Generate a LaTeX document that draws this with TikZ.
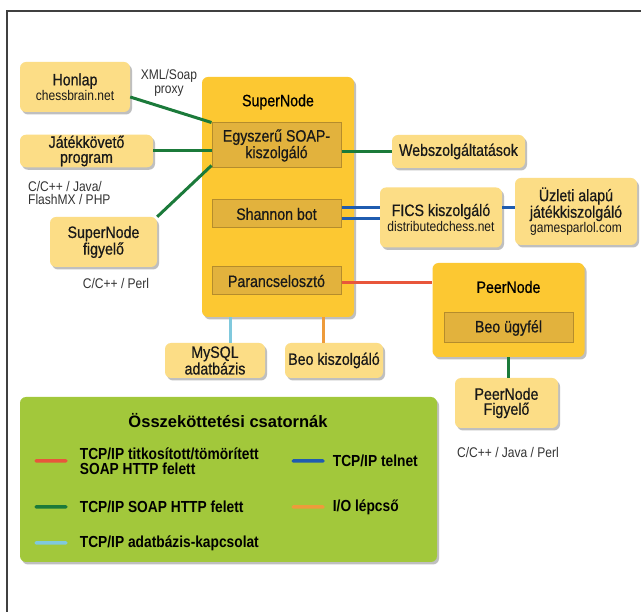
\documentclass[tikz,border=0pt]{standalone}
\usepackage{fontspec}
\setmainfont{Liberation Sans}[FakeStretch=0.86]
\newfontfamily\labelfont{Liberation Sans}[FakeStretch=0.86,FakeBold=0.6]
\newfontfamily\legtitlefont{Liberation Sans}
\usepackage{tikz}
\usetikzlibrary{positioning,shadows}

\definecolor{boxlight}{HTML}{FCDD86}
\definecolor{boxdark}{HTML}{FCC832}
\definecolor{boxinner}{HTML}{E2B23D}
\definecolor{boxedge}{HTML}{B58C2C}
\definecolor{legendgreen}{HTML}{A2C83B}
\definecolor{soapgreen}{HTML}{1B7A3A}
\definecolor{telnetblue}{HTML}{1F5CB0}
\definecolor{cryptred}{HTML}{E8563B}
\definecolor{dbblue}{HTML}{80C9DD}
\definecolor{ioorange}{HTML}{EE9B3B}

\newcommand\boxfont{\labelfont\fontsize{16.5}{15}\selectfont}
\newcommand\subfont{\rmfamily\fontsize{14}{13}\selectfont}
\newcommand\notefont{\fontsize{14}{13.5}\selectfont}

\tikzset{
  shadowed/.style={drop shadow={shadow xshift=2pt,shadow yshift=-2.5pt,fill=black!45,opacity=.55}},
  lightbox/.style={shape=rectangle,rounded corners=6pt,fill=boxlight,shadowed,
    align=center,inner sep=1pt,font=\boxfont,text=black!90},
  darkbox/.style={shape=rectangle,rounded corners=6pt,fill=boxdark,shadowed,inner sep=0pt},
  innerbox/.style={shape=rectangle,fill=boxinner,draw=boxedge,line width=1pt,
    align=center,inner sep=1pt,font=\boxfont,text=black!90},
  note/.style={font=\notefont,text=black!80,inner sep=0pt},
  link/.style={line width=3pt},
  swatch/.style={shape=rectangle,rounded corners=1.5pt,minimum width=33pt,
    minimum height=3.5pt,inner sep=0pt},
  legtext/.style={font=\bfseries\fontsize{16}{14.5}\selectfont,align=left,inner sep=0pt}
}

\begin{document}
\begin{tikzpicture}[x=1pt,y=-1pt]
  \useasboundingbox (0,0) rectangle (641,612);
  \fill[white] (0,0) rectangle (641,612);
  % frame
  \draw[black!75,line width=1.5pt] (7,612) -- (7,11) -- (641,11);

  % outer boxes
  \path (75,87) node [lightbox,minimum width=110pt,minimum height=50pt] (honlap)
          {Honlap\\{\subfont chessbrain.net}}
        (86.5,151) node [lightbox,minimum width=133pt,minimum height=32pt] (jatek)
          {Játékkövető\\program}
        (103.5,242) node [lightbox,minimum width=107pt,minimum height=50pt] (sfigyelo)
          {SuperNode\\figyelő}
        (458.5,151.5) node [lightbox,minimum width=133pt,minimum height=33pt] (web)
          {Webszolgáltatások}
        (441,217.5) node [lightbox,minimum width=122pt,minimum height=60pt] (fics)
          {FICS kiszolgáló\\{\subfont distributedchess.net}}
        (576,211.5) node [lightbox,minimum width=122pt,minimum height=67pt] (uzleti)
          {Üzleti alapú\\játékkiszolgáló\\{\subfont gamesparlol.com}}
        (215,360.5) node [lightbox,minimum width=100pt,minimum height=35pt] (mysql)
          {MySQL\\adatbázis}
        (334,360.5) node [lightbox,minimum width=98pt,minimum height=35pt] (beoksz)
          {Beo kiszolgáló}
        (506.5,403) node [lightbox,minimum width=103pt,minimum height=50pt] (pfigyelo)
          {PeerNode\\Figyelő};

  % SuperNode
  \path (278,197) node [darkbox,minimum width=152pt,minimum height=240pt] (super) {}
        (278,102) node [font=\boxfont] (supertitle) {SuperNode}
        (276.5,145.5) node [innerbox,minimum width=129pt,minimum height=45pt] (soap)
          {Egyszerű SOAP-\\kiszolgáló}
        (276.5,214) node [innerbox,minimum width=129pt,minimum height=28pt] (shannon)
          {Shannon bot}
        (276.5,281) node [innerbox,minimum width=129pt,minimum height=28pt] (parancs)
          {Parancselosztó};

  % PeerNode
  \path (508.5,310) node [darkbox,minimum width=152pt,minimum height=94pt] (peer) {}
        (508.5,287) node [font=\boxfont] (peertitle) {PeerNode}
        (508.5,328) node [innerbox,minimum width=129pt,minimum height=30pt] (beougy)
          {Beo ügyfél};

  % notes
  \node [note,align=center] (proxynote) at (169,83) {XML/Soap\\proxy};
  \node [note,align=left,anchor=north west] (jateknote) at (28,181) {C/C++ / Java/\\FlashMX / PHP};
  \node [note] (figyelonote) at (116,283) {C/C++ / Perl};
  \node [note] (peernote) at (508,452) {C/C++ / Java / Perl};

  % connectors
  \draw[link,soapgreen] ([yshift=-10pt]honlap.east) -- (soap.north west);
  \draw[link,soapgreen] (jatek.east) -- (jatek.east -| soap.west);
  \draw[link,soapgreen] (sfigyelo.north east) -- ([yshift=3pt]soap.south west);
  \draw[link,soapgreen] (soap.east |- web.west) -- (web.west);
  \draw[link,telnetblue] ([yshift=6pt]shannon.east) -- ([yshift=6pt]shannon.east -| fics.west);
  \draw[link,telnetblue] ([yshift=-5pt]shannon.east) -- ([yshift=-5pt]shannon.east -| fics.west);
  \draw[link,telnetblue] ([yshift=9.5pt]fics.east) -- ([yshift=9.5pt]fics.east -| uzleti.west);
  \draw[link,cryptred] ([yshift=-2pt]parancs.east) -- ([yshift=-2pt]parancs.east -| peer.west);
  \draw[link,dbblue] ([xshift=15pt]mysql.north) -- ([xshift=15pt]mysql.north |- super.south);
  \draw[link,ioorange] ([xshift=-11pt]beoksz.north) -- ([xshift=-11pt]beoksz.north |- super.south);
  \draw[link,soapgreen] (pfigyelo.north -| peer.south) -- (peer.south);

  % legend
  \node [darkbox,fill=legendgreen,minimum width=417pt,minimum height=165pt] (legend) at (228.5,479.5) {};
  \node [font=\legtitlefont\bfseries\fontsize{16.5}{18}\selectfont] (legtitle) at (228,421) {Összeköttetési csatornák};
  \path (51,461) node [swatch,fill=cryptred] (swred) {}
        (51,507) node [swatch,fill=soapgreen] (swgreen) {}
        (51,543) node [swatch,fill=dbblue] (swdb) {}
        (308,461) node [swatch,fill=telnetblue] (swblue) {}
        (308,507) node [swatch,fill=ioorange] (sworange) {};
  \node [legtext,right=12pt of swred] (lgred) {TCP/IP titkosított/tömörített\\SOAP HTTP felett};
  \node [legtext,right=12pt of swgreen] (lggreen) {TCP/IP SOAP HTTP felett};
  \node [legtext,right=12pt of swdb] (lgdb) {TCP/IP adatbázis-kapcsolat};
  \node [legtext,right=8pt of swblue] (lgblue) {TCP/IP telnet};
  \node [legtext,right=8pt of sworange] (lgorange) {I/O lépcső};
\end{tikzpicture}
\end{document}
